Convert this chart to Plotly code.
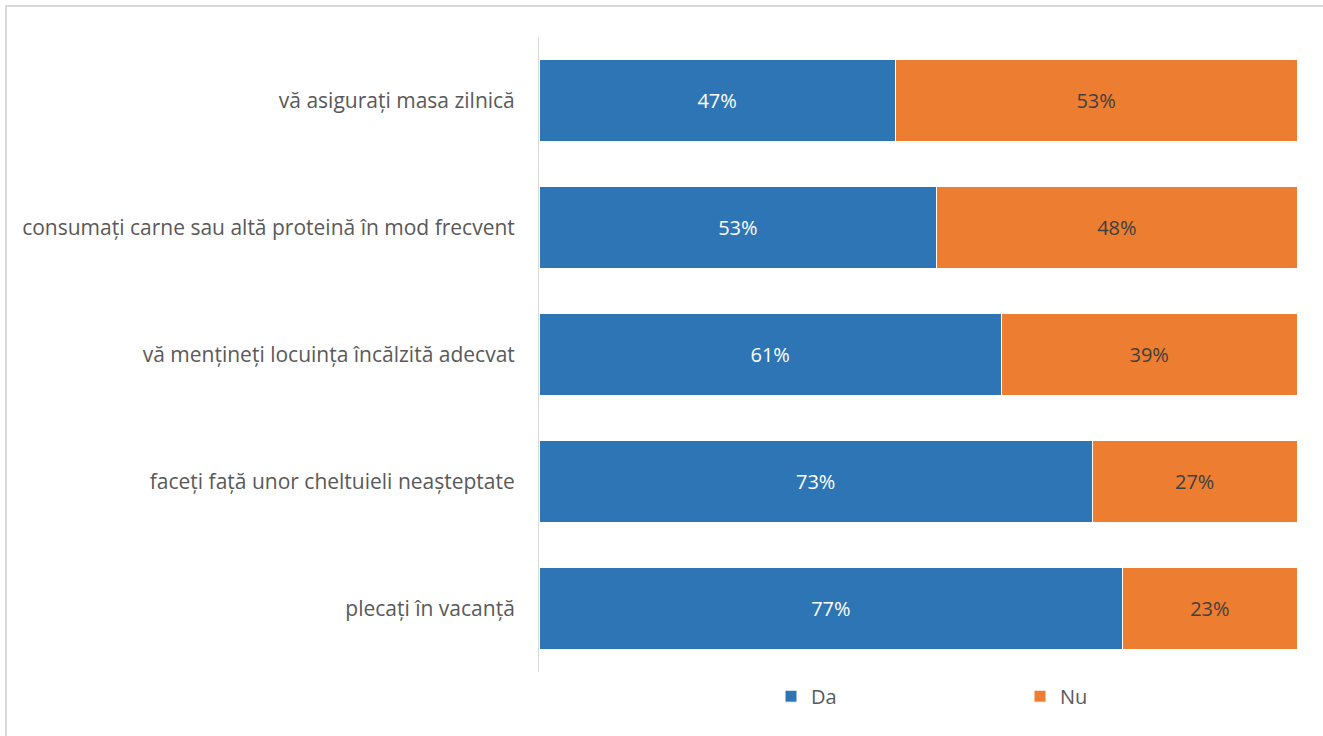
import plotly.graph_objects as go

categories = [
    "vă asigurați masa zilnică",
    "consumați carne sau altă proteină în mod frecvent",
    "vă mențineți locuința încălzită adecvat",
    "faceți față unor cheltuieli neașteptate",
    "plecați în vacanță",
]
da_values = [47, 53, 61, 73, 77]
nu_values = [53, 48, 39, 27, 23]
series_names = ["Da", "Nu"]

FONT = "Open Sans"
FS = 21

L, R, T, B = 539, 26, 37, 64
PW, PH = 1323 - L - R, 736 - T - B

fig = go.Figure()
fig.add_trace(go.Bar(
    y=categories, x=da_values, name=series_names[0], orientation="h",
    marker=dict(color="#2E75B6", line=dict(color="white", width=1)),
    text=[f"{v}%" for v in da_values], textposition="inside",
    insidetextanchor="middle", textfont=dict(color="white", size=20, family=FONT),
    hoverinfo="skip",
))
fig.add_trace(go.Bar(
    y=categories, x=nu_values, name=series_names[1], orientation="h",
    marker=dict(color="#ED7D31", line=dict(color="white", width=1)),
    text=[f"{v}%" for v in nu_values], textposition="inside",
    insidetextanchor="middle", textfont=dict(color="#404040", size=20, family=FONT),
    hoverinfo="skip",
))

fig.update_layout(
    barmode="stack", barnorm="percent", bargap=0.36,
    width=1323, height=736,
    margin=dict(l=L, r=R, t=T, b=B, autoexpand=False),
    paper_bgcolor="white", plot_bgcolor="white",
    font=dict(family=FONT, size=FS, color="#595959"),
    uniformtext=dict(mode="show", minsize=10),
    showlegend=True,
    legend=dict(orientation="h", x=(790 - 19 - L) / PW, xanchor="left",
                y=-0.02 + 8 / PH, yanchor="top",
                font=dict(size=20, color="#595959", family=FONT),
                itemwidth=30,
                entrywidth=204, entrywidthmode="pixels", traceorder="normal"),
    xaxis=dict(range=[0, 100], showgrid=False, showticklabels=False, zeroline=False,
               showline=False, ticks=""),
    yaxis=dict(autorange="reversed", showline=True, linecolor="#D9D9D9", linewidth=1,
               ticks="", ticklabelstandoff=19, tickfont=dict(size=FS, color="#595959", family=FONT)),
    shapes=[dict(type="rect", xref="paper", yref="paper",
                 x0=(6 - L) / PW, x1=(1340 - L) / PW, y0=-0.2, y1=1 + (T - 6) / PH,
                 line=dict(color="#D9D9D9", width=2), fillcolor="rgba(0,0,0,0)", layer="below")],
)

fig.write_html("out.html", config={"displayModeBar": False},
               post_script="document.body.style.margin='0';document.body.style.overflow='hidden';")
